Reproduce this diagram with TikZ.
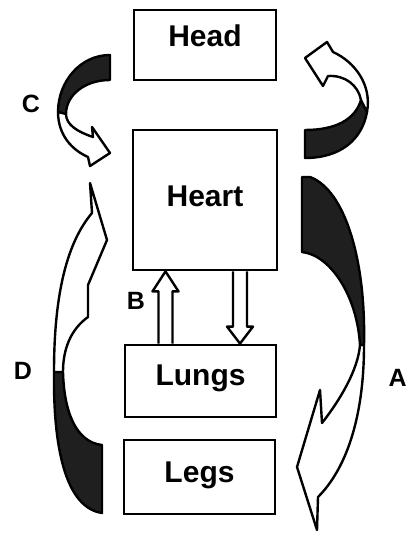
\documentclass[tikz,border=0pt]{standalone}
\usepackage{fontspec}
\setmainfont{Liberation Sans}
\usetikzlibrary{calc}

\begin{document}
\begin{tikzpicture}[x=0.5pt, y=-0.5pt,
  organ/.style={draw, line width=1.4pt, inner sep=0pt, text height=11pt,
    font=\fontsize{15}{18}\selectfont\bfseries},
  tag/.style={font=\fontsize{12.5}{15}\selectfont\bfseries},
  ribbon/.style={draw, fill=white, line width=1.2pt, line join=round},
  backside/.style={draw, fill=black!88, line width=1.2pt, line join=round}
]
\useasboundingbox (0,0) rectangle (409,533);

\node[organ, minimum width=71pt, minimum height=35pt, text depth=9pt] (head) at (205,45) {Head};
\node[organ, minimum width=72pt, minimum height=70pt, text depth=4pt] (heart) at (205,200) {Heart};
\node[organ, minimum width=75.5pt, minimum height=36pt, text depth=7pt] (lungs) at (200.5,381) {Lungs};
\node[organ, minimum width=75.5pt, minimum height=37pt, text depth=6pt] (legs) at (199.5,477) {Legs};

\node[tag] (labC) at (31,104) {C};
\node[tag] (labB) at (136,301) {B};
\node[tag] (labD) at (23,371) {D};
\node[tag, anchor=east, inner sep=0pt] (labA) at (407,378) {A};

% lungs <-> heart
\coordinate (bu) at ($(lungs.north)+(-35,0)$);
\coordinate (bt) at (bu |- heart.south);
\draw[ribbon] ($(bu)+(-7,0)$) -- ($(bt)+(-7,20)$) -- ($(bt)+(-13,20)$) -- (bt)
  -- ($(bt)+(13,20)$) -- ($(bt)+(7,20)$) -- ($(bu)+(7,0)$);
\coordinate (bd) at ($(heart.south)+(35,0)$);
\coordinate (be) at (bd |- lungs.north);
\draw[ribbon] ($(bd)+(-7,0)$) -- ($(be)+(-7,-17)$) -- ($(be)+(-13,-17)$) -- (be)
  -- ($(be)+(13,-17)$) -- ($(be)+(7,-17)$) -- ($(bd)+(7,0)$);

% C: head -> heart
\draw[backside] (110,55) .. controls (80,55) and (58,82) .. (58,112) -- (66,114)
  .. controls (66,95) and (85,80) .. (110,80) -- cycle;
\draw[ribbon] (58,112) .. controls (58,135) and (72,150) .. (88,157) -- (90,166) -- (110,153)
  -- (92,127) -- (93,137) .. controls (78,132) and (66,125) .. (66,114) -- cycle;

% heart -> head
\draw[backside] (305,130) -- (305,158) .. controls (340,158) and (362,140) .. (367,112)
  -- (361,100) .. controls (355,120) and (335,130) .. (305,130) -- cycle;
\draw[ribbon] (367,112) .. controls (372,85) and (355,62) .. (333,52) -- (327,42) -- (305,58)
  -- (323,86) -- (328,76) .. controls (345,75) and (358,85) .. (361,100) -- cycle;

% A: heart -> legs
\draw[backside] (302,177) -- (310,177) .. controls (345,190) and (366,260) .. (364,345)
  -- (360,345) .. controls (357,295) and (330,255) .. (302,252) -- cycle;
\draw[ribbon] (364,345) .. controls (364,420) and (345,470) .. (318,497) -- (317,530)
  -- (297,467) -- (320,390) -- (322,423) .. controls (340,400) and (358,370) .. (360,345) -- cycle;

% D: legs -> heart
\draw[backside] (102,513) .. controls (68,508) and (53,455) .. (54,372) -- (63,372)
  .. controls (64,410) and (75,442) .. (102,445) -- cycle;
\draw[ribbon] (54,372) .. controls (54,300) and (65,245) .. (92,213) -- (90,183) -- (107,240)
  -- (88,285) -- (88,317) .. controls (70,330) and (63,350) .. (63,372) -- cycle;
\end{tikzpicture}
\end{document}
